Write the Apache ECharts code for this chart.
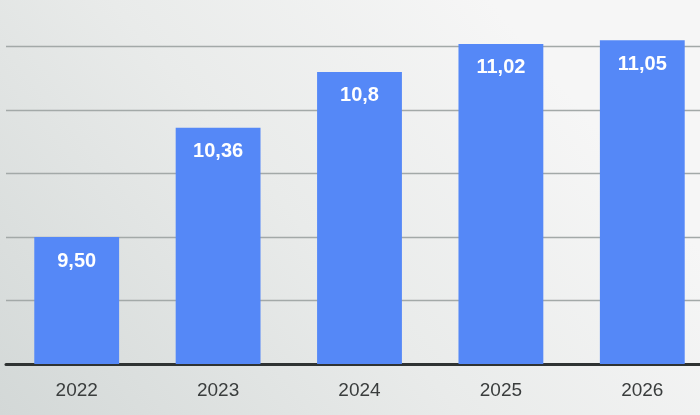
<!DOCTYPE html>
<html>
<head>
<meta charset="utf-8">
<script src="https://cdn.jsdelivr.net/npm/echarts@6/dist/echarts.min.js"></script>
<style>
html,body{margin:0;padding:0;}
#c{width:700px;height:415px;}
</style>
</head>
<body>
<div id="c"></div>
<script>
var categories = ['2022', '2023', '2024', '2025', '2026'];
var values = [9.50, 10.36, 10.8, 11.02, 11.05];
var valueLabels = ['9,50', '10,36', '10,8', '11,02', '11,05'];

var chart = echarts.init(document.getElementById('c'), null, {renderer: 'canvas'});
chart.setOption({
  backgroundColor: {
    type: 'linear', x: 0, y: 1, x2: 0.7, y2: 0,
    colorStops: [
      {offset: 0, color: '#d3d8d7'},
      {offset: 0.55, color: '#e9ebea'},
      {offset: 1, color: '#f6f6f6'}
    ]
  },
  animation: false,
  grid: {left: 6, top: -17, width: 707, height: 381, containLabel: false, outerBoundsMode: 'none'},
  xAxis: {
    type: 'category',
    data: categories,
    axisLine: {show: true, lineStyle: {color: '#2f3333', width: 3}},
    axisTick: {show: false},
    axisLabel: {
      color: '#3a3d3d', fontSize: 19, margin: 17,
      fontFamily: 'Liberation Sans Narrow, Liberation Sans, Arial, sans-serif'
    }
  },
  yAxis: {
    type: 'value',
    min: 8.5, max: 11.5, interval: 0.5,
    axisLine: {show: false},
    axisTick: {show: false},
    axisLabel: {show: false},
    splitLine: {lineStyle: {color: '#a3a9a8', width: 1.3}}
  },
  series: [{
    type: 'bar',
    data: values,
    barWidth: '60%',
    itemStyle: {color: '#5588f7'},
    label: {
      show: true,
      position: 'insideTop',
      distance: 14,
      color: '#ffffff',
      fontSize: 20,
      fontWeight: 'bold',
      fontFamily: 'Liberation Sans, Arial, sans-serif',
      formatter: function (p) { return valueLabels[p.dataIndex]; }
    }
  }]
});
</script>
</body>
</html>
